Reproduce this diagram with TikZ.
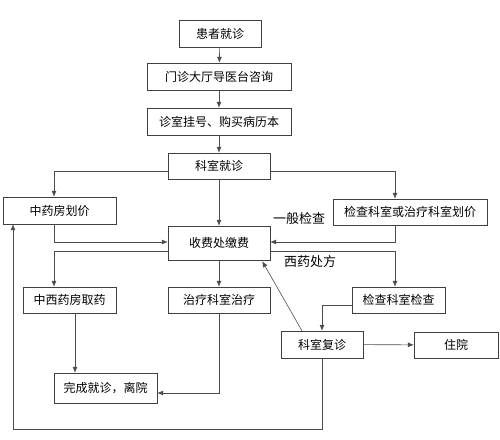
\documentclass[tikz,border=0pt]{standalone}
\usepackage{fontspec}
\setmainfont{Noto Sans CJK SC}
\usetikzlibrary{calc,arrows.meta}

\tikzset{
  box/.style={draw=black!75, rectangle, inner sep=0pt, font=\fontsize{12}{14}\selectfont},
  flow/.style={draw=black!70, semithick, -{Latex[length=6pt,width=5pt]}},
  tag/.style={font=\fontsize{13}{15}\selectfont}
}

\begin{document}
\begin{tikzpicture}[x=1pt,y=-1pt]
\useasboundingbox (0,0) rectangle (500,439);
\node[box, minimum width=82pt, minimum height=27pt] (visit) at (220,33.5){患者就诊};
\node[box, minimum width=144pt, minimum height=27pt] (guide) at (219,76.5){门诊大厅导医台咨询};
\node[box, minimum width=144pt, minimum height=27pt] (reg) at (219,121.5){诊室挂号、购买病历本};
\node[box, minimum width=102pt, minimum height=26pt] (dept) at (219,166){科室就诊};
\node[box, minimum width=113pt, minimum height=27pt] (tcmprice) at (59.5,210.5){中药房划价};
\node[box, minimum width=154pt, minimum height=26pt] (examprice) at (410,212){检查科室或治疗科室划价};
\node[box, minimum width=102pt, minimum height=34pt] (pay) at (219,243){收费处缴费};
\node[box, minimum width=93pt, minimum height=26pt] (pharmacy) at (69.5,300){中西药房取药};
\node[box, minimum width=102pt, minimum height=26pt] (treat) at (219,300){治疗科室治疗};
\node[box, minimum width=93pt, minimum height=26pt] (exam) at (398.5,300){检查科室检查};
\node[box, minimum width=82pt, minimum height=27pt] (revisit) at (322,344.5){科室复诊};
\node[box, minimum width=84pt, minimum height=26pt] (hosp) at (456,345){住院};
\node[box, minimum width=103pt, minimum height=30pt] (done) at (105.5,388){完成就诊，离院};
\node[tag] (general) at (299,219){一般检查};
\node[tag] (western) at (310,262){西药处方};
\coordinate (back) at (13,429);

\draw[flow] (visit) -- (guide);
\draw[flow] (guide) -- (reg);
\draw[flow] (reg) -- (dept);
\draw[flow] ([yshift=-5pt]dept.west) -| ([xshift=-5.5pt]tcmprice.north);
\draw[flow] ([yshift=-5pt]dept.east) -| ([xshift=-15pt]examprice.north);
\draw[flow] (dept) -- (pay);
\draw[flow] ([xshift=-5.5pt]tcmprice.south) |- ([yshift=1pt]pay.west);
\draw[flow] ([xshift=-15pt]examprice.south) |- ([yshift=1pt]pay.east);
\draw[flow] ([yshift=-8pt]pay.west) -| ([xshift=-15.5pt]pharmacy.north);
\draw[flow] ([yshift=-8pt]pay.east) -| ([xshift=-3.5pt]exam.north);
\draw[flow] (pay) -- (treat);
\draw[flow] ([yshift=-5pt]exam.west) -| (revisit.north);
\draw[flow] (revisit) -- (hosp);
\draw[flow] ([xshift=-20pt]revisit.north) -- ([xshift=-8pt,yshift=-1pt]pay.south east);
\draw[flow] ([xshift=5.5pt]pharmacy.south) -- ([xshift=5.5pt]pharmacy.south |- done.north);
\draw[flow] (treat.south) |- ([yshift=-5pt]done.east);
\draw[flow] (revisit.south) |- (back) -- (back |- tcmprice.south);
\end{tikzpicture}
\end{document}
